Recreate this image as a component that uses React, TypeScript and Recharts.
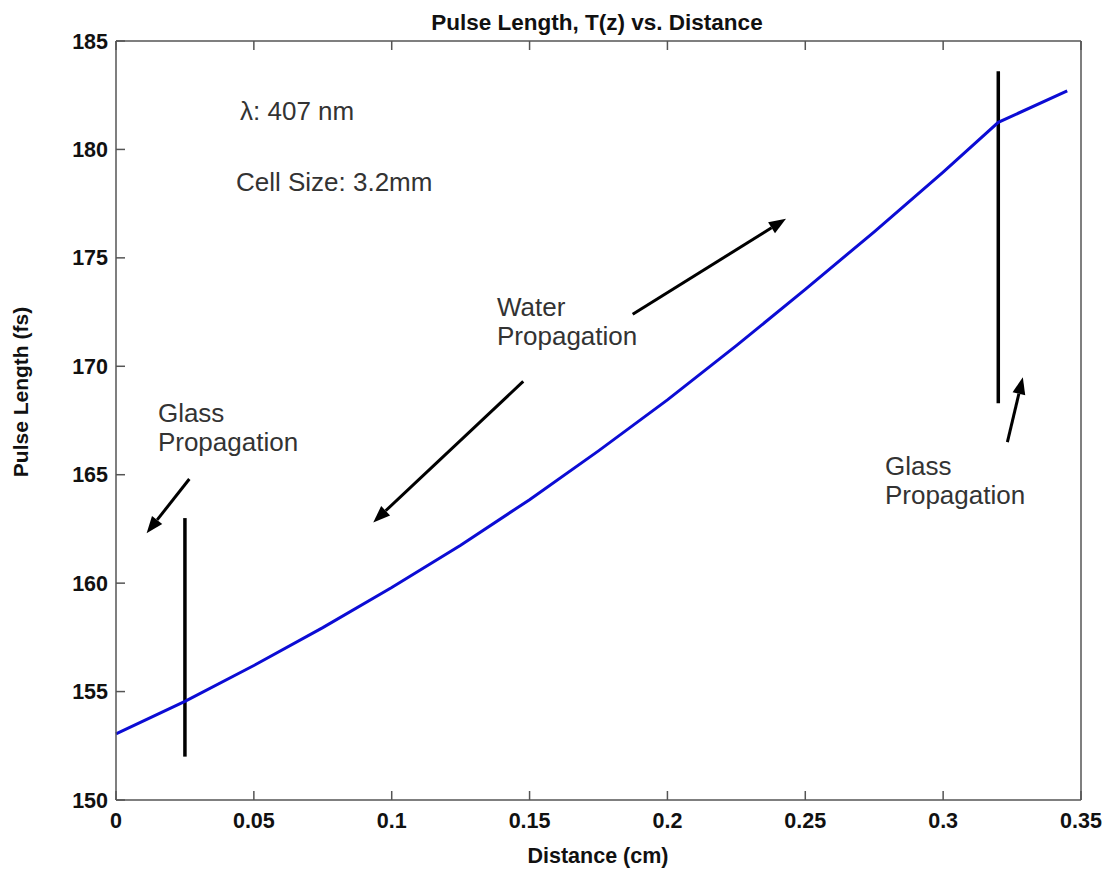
import { LineChart, Line, XAxis, YAxis, ReferenceLine, ReferenceDot } from 'recharts';

// distance (cm) and pulse length (fs)
const distance = [0, 0.025, 0.05, 0.075, 0.1, 0.125, 0.15, 0.175, 0.2, 0.225, 0.25, 0.275, 0.3, 0.32, 0.345];
const pulseLength = [153.05, 154.55, 156.2, 157.95, 159.8, 161.75, 163.85, 166.1, 168.45, 170.95, 173.55, 176.2, 178.95, 181.25, 182.7];

const xTicks = [0, 0.05, 0.1, 0.15, 0.2, 0.25, 0.3, 0.35];
const yTicks = [150, 155, 160, 165, 170, 175, 180, 185];

// glass / water boundaries
const boundaries = [
  { x: 0.025, from: 152, to: 163 },
  { x: 0.32, from: 168.3, to: 183.6 },
];

const arrows = [
  { x1: 0.0266, y1: 164.8, x2: 0.0111, y2: 162.3 },
  { x1: 0.1477, y1: 169.3, x2: 0.0933, y2: 162.8 },
  { x1: 0.1874, y1: 172.4, x2: 0.243, y2: 176.8 },
  { x1: 0.3233, y1: 166.5, x2: 0.3289, y2: 169.5 },
];

const notes = [
  { x: 0.045, y: 181.35, lines: ['λ: 407 nm'] },
  { x: 0.0435, y: 178.07, lines: ['Cell Size: 3.2mm'] },
  { x: 0.1382, y: 172.3, lines: ['Water', 'Propagation'] },
  { x: 0.0152, y: 167.42, lines: ['Glass', 'Propagation'] },
  { x: 0.2789, y: 165.0, lines: ['Glass', 'Propagation'] },
];

const data = distance.map((d, i) => ({ d, t: pulseLength[i] }));

const font = '"Liberation Sans", Arial, sans-serif';
const axisColor = '#555';

const LeftTick = ({ x, y, payload }: any) => (
  <g>
    <line x1={x} y1={y} x2={x + 9} y2={y} stroke={axisColor} strokeWidth={1.5} />
    <text x={x - 8} y={y + 7.5} textAnchor="end" fontFamily={font} fontWeight="bold" fontSize={21.5} fill="#111">
      {payload.value}
    </text>
  </g>
);

const RightTick = ({ x, y }: any) => (
  <line x1={x} y1={y} x2={x - 9} y2={y} stroke={axisColor} strokeWidth={1.5} />
);

const BottomTick = ({ x, y, payload }: any) => (
  <g>
    <line x1={x} y1={y} x2={x} y2={y - 9} stroke={axisColor} strokeWidth={1.5} />
    <text x={x} y={y + 27.5} textAnchor="middle" fontFamily={font} fontWeight="bold" fontSize={21.5} fill="#111">
      {payload.value}
    </text>
  </g>
);

const TopTick = ({ x, y }: any) => (
  <line x1={x} y1={y} x2={x} y2={y + 9} stroke={axisColor} strokeWidth={1.5} />
);

const Arrow = (p: any) => {
  const { x1, y1, x2, y2 } = p;
  const a = Math.atan2(y2 - y1, x2 - x1);
  const len = 17;
  const w = 6.5;
  const bx = x2 - len * Math.cos(a);
  const by = y2 - len * Math.sin(a);
  const px = -Math.sin(a) * w;
  const py = Math.cos(a) * w;
  return (
    <g>
      <line x1={x1} y1={y1} x2={bx} y2={by} stroke="#000" strokeWidth={3} />
      <polygon points={`${x2},${y2} ${bx + px},${by + py} ${bx - px},${by - py}`} fill="#000" />
    </g>
  );
};

export default function App() {
  return (
    <div style={{ position: 'absolute', left: 0, top: 0, background: '#fff' }}>
      <LineChart width={1110} height={871} data={data} margin={{ top: 40, right: 28, bottom: 0, left: 0 }}>
        <XAxis
          dataKey="d"
          type="number"
          domain={[0, 0.35]}
          ticks={xTicks}
          height={71}
          tickSize={0}
          tickMargin={0}
          tickLine={false}
          tick={BottomTick}
          axisLine={{ stroke: axisColor, strokeWidth: 1.5 }}
          label={{
            content: () => (
              <text x={598} y={863} textAnchor="middle" fontFamily={font} fontWeight="bold" fontSize={21.5} fill="#111">
                Distance (cm)
              </text>
            ),
          }}
        />
        <XAxis
          xAxisId="top"
          orientation="top"
          dataKey="d"
          type="number"
          domain={[0, 0.35]}
          ticks={xTicks}
          height={1}
          tickSize={0}
          tickMargin={0}
          tickLine={false}
          tick={TopTick}
          axisLine={{ stroke: axisColor, strokeWidth: 1.5 }}
          label={{
            content: () => (
              <text x={597} y={30} textAnchor="middle" fontFamily={font} fontWeight="bold" fontSize={22.5} fill="#111">
                Pulse Length, T(z) vs. Distance
              </text>
            ),
          }}
        />
        <YAxis
          type="number"
          domain={[150, 185]}
          ticks={yTicks}
          width={116}
          tickSize={0}
          tickMargin={0}
          tickLine={false}
          tick={LeftTick}
          axisLine={{ stroke: axisColor, strokeWidth: 1.5 }}
          label={{
            content: () => (
              <text
                x={28}
                y={392}
                transform="rotate(-90 28 392)"
                textAnchor="middle"
                fontFamily={font}
                fontWeight="bold"
                fontSize={21}
                fill="#111"
              >
                Pulse Length (fs)
              </text>
            ),
          }}
        />
        <YAxis
          yAxisId="right"
          orientation="right"
          type="number"
          domain={[150, 185]}
          ticks={yTicks}
          width={1}
          tickSize={0}
          tickMargin={0}
          tickLine={false}
          tick={RightTick}
          axisLine={{ stroke: axisColor, strokeWidth: 1.5 }}
        />
        {boundaries.map((b, i) => (
          <ReferenceLine
            key={'b' + i}
            segment={[
              { x: b.x, y: b.from },
              { x: b.x, y: b.to },
            ]}
            stroke="#000"
            strokeWidth={3.5}
          />
        ))}
        {arrows.map((a, i) => (
          <ReferenceLine
            key={'a' + i}
            segment={[
              { x: a.x1, y: a.y1 },
              { x: a.x2, y: a.y2 },
            ]}
            shape={Arrow}
          />
        ))}
        {notes.map((n, i) => (
          <ReferenceDot
            key={'n' + i}
            x={n.x}
            y={n.y}
            r={1}
            shape={(p: any) => (
              <text x={p.cx} y={p.cy} fontFamily={font} fontSize={26} fill="#333">
                {n.lines.map((l, j) => (
                  <tspan key={j} x={p.cx} dy={j === 0 ? 0 : 29}>
                    {l}
                  </tspan>
                ))}
              </text>
            )}
          />
        ))}
        <Line
          type="linear"
          dataKey="t"
          stroke="#0c0cd4"
          strokeWidth={3}
          dot={false}
          isAnimationActive={false}
        />
      </LineChart>
    </div>
  );
}
